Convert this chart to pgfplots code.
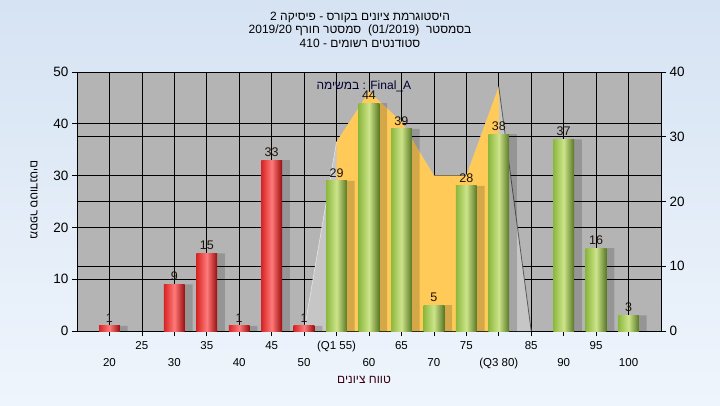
\documentclass[border=0pt]{standalone}
\usepackage{pgfplots}
\pgfplotsset{compat=1.18}
\usepackage{fontspec}
\setmainfont{Liberation Sans}
\newfontfamily\hebfont[Script=Hebrew]{Liberation Sans}
\newcommand{\heb}[1]{{\hebfont #1}}
\definecolor{bgtop}{HTML}{D6E3F3}
\definecolor{bgbot}{HTML}{EFF5FC}
\definecolor{plotgray}{HTML}{B4B4B4}
\definecolor{lightpoly}{HTML}{C6C6C6}
\definecolor{orangefill}{HTML}{FFCA57}
\definecolor{gL}{HTML}{8CB83E}
\definecolor{gM}{HTML}{CDE48A}
\definecolor{gR}{HTML}{587824}
\definecolor{rL}{HTML}{D82424}
\definecolor{rM}{HTML}{FF7A7A}
\definecolor{rR}{HTML}{9A0C0C}
\pgfplotsset{
  barbase/.style={ybar, bar width=3.2, bar shift=0, draw=none,
    nodes near coords, every node near coord/.append style={font=\fontsize{12.5}{14}\selectfont, text=black!85!brown}},
  redbar/.style={barbase, left color=rL, right color=rR, middle color=rM},
  greenbar/.style={barbase, left color=gL, right color=gR, middle color=gM},
}
\begin{document}
\begin{tikzpicture}[x=1pt,y=1pt]
\shade[top color=bgtop, bottom color=bgbot] (0pt,0pt) rectangle (720pt,405pt);
\begin{axis}[
  at={(77pt,74pt)}, anchor=south west, scale only axis,
  width=584pt, height=259pt,
  xmin=15, xmax=105, ymin=0, ymax=50,
  axis background/.style={fill=plotgray},
  axis line style={black, line width=0.8pt},
  grid=major, grid style={black, line width=0.7pt},
  tick align=outside, major tick length=5pt,
  tick style={black, line width=0.7pt},
  xtick pos=bottom, ytick pos=left,
  xtick={20,30,...,100},
  xticklabels={20,30,40,50,60,70,{(Q3 80)},90,100},
  x tick label style={font=\fontsize{11.5}{13}\selectfont, yshift=-19pt},
  extra x ticks={25,35,...,95},
  extra x tick labels={25,35,45,{(Q1 55)},65,75,85,95},
  extra x tick style={grid=major, x tick label style={yshift=17pt}},
  ytick={0,10,...,50},
  y tick label style={font=\fontsize{13.5}{15}\selectfont},
  extra y ticks={12.5,25,37.5},
  extra y tick labels={},
  extra y tick style={grid=major, major tick length=0pt},
  /pgf/number format/assume math mode=true,
  clip=false,
]
% fitted area (gray edges + orange body)
\addplot[fill=lightpoly, draw=none] coordinates {(50,0) (55,36.5) (60,46.2) (65,40.4) (70,30) (75,30) (80,47.2) (85,0)} -- cycle;
\addplot[fill=orangefill, draw=none] coordinates {(55,0) (55,36.5) (60,46.2) (65,40.4) (70,30) (75,30) (80,47.2) (80,0)} -- cycle;
\addplot[draw=black!65, line width=0.8pt] coordinates {(80,47.2) (85,0)};
\addplot[draw=white!80!gray, line width=0.6pt] coordinates {(50,0) (55,36.5)};
% shadows
\addplot[ybar, bar width=3.4, bar shift=1.1, fill=black, opacity=0.17, draw=none]
  coordinates {(20,1) (30,9) (35,15) (40,1) (45,33) (50,1) (55,29) (60,44) (65,39) (70,5) (75,28) (80,38) (90,37) (95,16) (100,3)};
% red bars
\addplot[redbar] coordinates {(20,1)};
\addplot[redbar] coordinates {(30,9)};
\addplot[redbar] coordinates {(35,15)};
\addplot[redbar] coordinates {(40,1)};
\addplot[redbar] coordinates {(45,33)};
\addplot[redbar] coordinates {(50,1)};
% green bars
\addplot[greenbar] coordinates {(55,29)};
\addplot[greenbar] coordinates {(60,44)};
\addplot[greenbar] coordinates {(65,39)};
\addplot[greenbar] coordinates {(70,5)};
\addplot[greenbar] coordinates {(75,28)};
\addplot[greenbar] coordinates {(80,38)};
\addplot[greenbar] coordinates {(90,37)};
\addplot[greenbar] coordinates {(95,16)};
\addplot[greenbar] coordinates {(100,3)};
\node[font=\fontsize{12}{14}\selectfont, text=black!80!blue] at (axis cs:59.2,47.3) {\heb{במשימה} : Final\_A};
\end{axis}
\begin{axis}[
  at={(77pt,74pt)}, anchor=south west, scale only axis,
  width=584pt, height=259pt,
  xmin=15, xmax=105, ymin=0, ymax=40,
  axis x line=none, axis y line*=right,
  axis line style={black, line width=0.8pt},
  tick align=outside, major tick length=5pt,
  tick style={black, line width=0.7pt},
  ytick={0,10,...,40},
  y tick label style={font=\fontsize{13.5}{15}\selectfont},
  /pgf/number format/assume math mode=true,
]
\addplot[draw=none] coordinates {(20,0)};
\end{axis}
\node[font=\fontsize{12}{14}\selectfont] at (360pt,388pt) {2 \heb{פיסיקה} - \heb{בקורס} \heb{ציונים} \heb{היסטוגרמת}};
\node[font=\fontsize{12}{14}\selectfont] at (360pt,375pt) {2019/20 \heb{חורף} \heb{סמסטר}\ \ (01/2019)\ \ \heb{בסמסטר}};
\node[font=\fontsize{12}{14}\selectfont] at (360pt,362pt) {410 - \heb{רשומים} \heb{סטודנטים}};
\node[font=\fontsize{12}{14}\selectfont, text=black!70!purple] at (364pt,25pt) {\heb{ציונים} \heb{טווח}};
\node[font=\fontsize{11.5}{13}\selectfont, rotate=-90] at (34pt,205pt) {\heb{סטודנטים} \heb{מספר}};
\end{tikzpicture}
\end{document}
